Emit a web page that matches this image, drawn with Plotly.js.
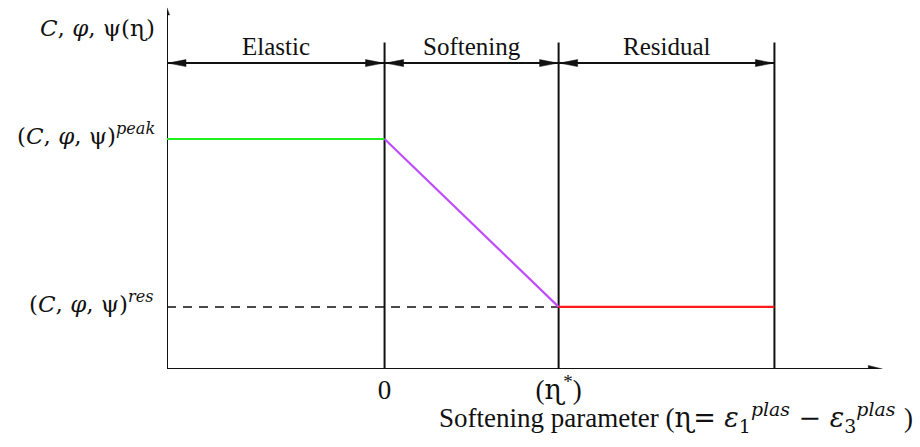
<!DOCTYPE html>
<html>
<head>
<meta charset="utf-8">
<script src="https://cdn.plot.ly/plotly-3.0.1.min.js"></script>
<style>
  html, body { margin: 0; padding: 0; background: #ffffff; }
  #chart { width: 920px; height: 447px; }
</style>
</head>
<body>
<div id="chart"></div>
<script>
// Stage boundaries along the softening parameter axis
const axisStart = -1.25;   // origin of the drawing (vertical axis)
const softStart = 0;       // end of the elastic stage
const softEnd = 1;         // η* : end of softening
const residualEnd = 2.24;  // end of the residual stage marker
const axisEnd = 2.86;      // tip of the horizontal axis arrow

// Strength parameter levels
const peakLevel = 1.0;
const residualLevel = 0.27;

// Annotation levels
const dimLevel = 1.33;     // stage dimension arrows
const stageTop = 1.42;     // top of the stage boundary lines
const yAxisTop = 1.57;     // tip of the vertical axis arrow

const stageNames = ['Elastic', 'Softening', 'Residual'];
const stageBounds = [axisStart, softStart, softEnd, residualEnd];
const tickValues = [softStart, softEnd];
const tickLabels = ['0', '(<span style="font-family:DejaVu Serif">ɳ</span><sup>*</sup>)'];

const serif = 'Liberation Serif';
const mathFont = 'DejaVu Serif';
const ink = '#111111';

// Curves
const elasticX = [axisStart, softStart];
const elasticY = [peakLevel, peakLevel];
const softeningX = [softStart, softEnd];
const softeningY = [peakLevel, residualLevel];
const residualX = [softEnd, residualEnd];
const residualY = [residualLevel, residualLevel];
const guideX = [axisStart, softEnd];
const guideY = [residualLevel, residualLevel];

const traces = [
  { x: guideX, y: guideY, mode: 'lines', line: { color: ink, width: 1.5, dash: '9px,7px' }, hoverinfo: 'skip' },
  { x: elasticX, y: elasticY, mode: 'lines', line: { color: '#22ee22', width: 2.2 }, hoverinfo: 'skip' },
  { x: softeningX, y: softeningY, mode: 'lines', line: { color: '#c04cff', width: 2.2 }, hoverinfo: 'skip' },
  { x: residualX, y: residualY, mode: 'lines', line: { color: '#ff1a1a', width: 2.2 }, hoverinfo: 'skip' }
];

const shapes = [];
// axes
shapes.push({ type: 'line', xref: 'x', yref: 'y', x0: axisStart, x1: axisStart, y0: 0, y1: yAxisTop - 0.02, line: { color: ink, width: 2 }, layer: 'below' });
shapes.push({ type: 'line', xref: 'x', yref: 'y', x0: axisStart, x1: axisEnd - 0.03, y0: 0, y1: 0, line: { color: ink, width: 2 }, layer: 'below' });
// stage boundaries
[softStart, softEnd, residualEnd].forEach(function (b) {
  shapes.push({ type: 'line', xref: 'x', yref: 'y', x0: b, x1: b, y0: 0, y1: stageTop, line: { color: ink, width: 2 }, layer: 'below' });
});
// arrow heads built in pixel space around an anchor point
function head(xa, ya, path) {
  return { type: 'path', xref: 'x', yref: 'y', xsizemode: 'pixel', ysizemode: 'pixel',
           xanchor: xa, yanchor: ya, path: path, fillcolor: ink, line: { color: ink, width: 0.5 } };
}
// stage dimension arrows
for (let i = 0; i < stageNames.length; i++) {
  const a = stageBounds[i], b = stageBounds[i + 1];
  shapes.push({ type: 'line', xref: 'x', yref: 'y', x0: a, x1: b, y0: dimLevel, y1: dimLevel, line: { color: ink, width: 2 } });
  shapes.push(head(a, dimLevel, 'M1,0 L19,3.5 L19,-3.5 Z'));
  shapes.push(head(b, dimLevel, 'M-1,0 L-19,3.5 L-19,-3.5 Z'));
}
// axis arrow heads
shapes.push(head(axisEnd, 0, 'M0,0 L-14,3.5 L-14,-3.5 Z'));
shapes.push(head(axisStart, yAxisTop, 'M0,0 L-2.5,-7 L2.5,-7 Z'));

const annotations = [];
stageNames.forEach(function (name, i) {
  annotations.push({ x: (stageBounds[i] + stageBounds[i + 1]) / 2, y: dimLevel, xref: 'x', yref: 'y',
    text: name, showarrow: false, yanchor: 'bottom', yshift: 1,
    font: { family: serif, size: 25, color: ink } });
});
// vertical axis labels
annotations.push({ x: axisStart, y: yAxisTop, xref: 'x', yref: 'y', xanchor: 'right', yanchor: 'middle',
  xshift: -10, yshift: -20, showarrow: false,
  text: '<i>C</i>, <i>φ</i>, ψ(ɳ)', font: { family: mathFont, size: 23, color: ink } });
annotations.push({ x: axisStart, y: peakLevel, xref: 'x', yref: 'y', xanchor: 'right', yanchor: 'middle',
  xshift: -10, yshift: 5, showarrow: false,
  text: '(<i>C</i>, <i>φ</i>, ψ)<sup><i>peak</i></sup>', font: { family: mathFont, size: 23, color: ink } });
annotations.push({ x: axisStart, y: residualLevel, xref: 'x', yref: 'y', xanchor: 'right', yanchor: 'middle',
  xshift: -12, yshift: 5, showarrow: false,
  text: '(<i>C</i>, <i>φ</i>, ψ)<sup><i>res</i></sup>', font: { family: mathFont, size: 23, color: ink } });
// horizontal axis title
annotations.push({ x: 1, y: 0, xref: 'paper', yref: 'paper', xanchor: 'right', yanchor: 'top',
  xshift: 17, yshift: -27, showarrow: false,
  text: 'Softening parameter (<span style="font-family:DejaVu Serif">ɳ= <i>ε</i><sub>1</sub><sup><i>plas</i></sup> − <i>ε</i><sub>3</sub><sup><i>plas</i></sup> </span>)',
  font: { family: serif, size: 27, color: ink } });

const layout = {
  width: 920, height: 447,
  margin: { l: 167, r: 22, t: 1, b: 78 },
  paper_bgcolor: '#ffffff', plot_bgcolor: '#ffffff',
  showlegend: false,
  xaxis: { range: [axisStart, 2.95], showgrid: false, zeroline: false, showline: false,
           tickvals: tickValues, ticktext: tickLabels, ticks: '', ticklabelstandoff: 2,
           tickfont: { family: serif, size: 27, color: ink }, fixedrange: true },
  yaxis: { range: [0, 1.6], showgrid: false, zeroline: false, showline: false,
           showticklabels: false, ticks: '', fixedrange: true },
  shapes: shapes,
  annotations: annotations
};

Plotly.newPlot('chart', traces, layout, { displayModeBar: false, staticPlot: true });
</script>
</body>
</html>
